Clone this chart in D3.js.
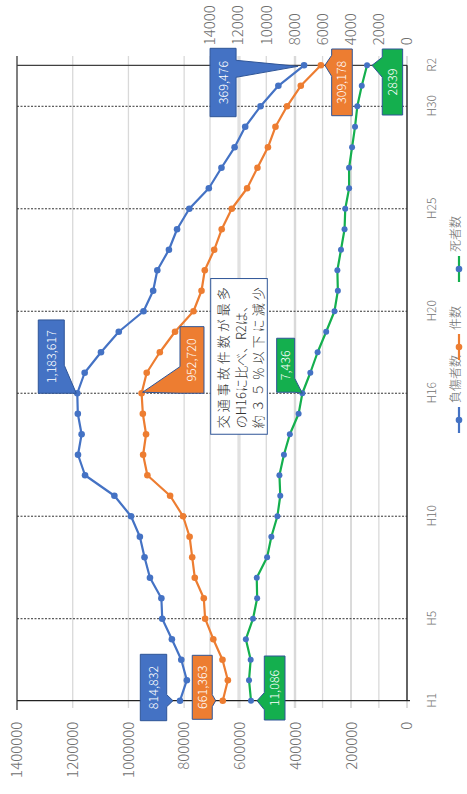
<!DOCTYPE html>
<html>
<head>
<meta charset="utf-8">
<script src="https://cdn.jsdelivr.net/npm/d3@7"></script>
<style>
  body { margin: 0; background: #fff; }
  text { font-family: "Noto Sans CJK JP", "Noto Sans", sans-serif; font-weight: 300; }
</style>
</head>
<body>
<svg id="chart" width="467" height="794"></svg>
<script>
// data (national traffic accidents, H1 .. R2)
var years = ['H1','H2','H3','H4','H5','H6','H7','H8','H9','H10',
             'H11','H12','H13','H14','H15','H16','H17','H18','H19','H20',
             'H21','H22','H23','H24','H25','H26','H27','H28','H29','H30','R1','R2'];
var injured = [814832,790295,810245,844003,878633,881723,922677,942204,958925,990675,
               1050399,1155707,1181039,1168029,1181681,1183617,1157113,1098564,1034652,945703,
               911215,896297,854613,825392,781494,711374,666023,618853,580850,525846,461775,369476];
var accidents = [661363,643097,662388,695345,724675,729461,761794,771085,780401,803882,
                 850371,931950,947253,936721,948281,952720,934346,887267,832704,766394,
                 737637,725924,692084,665157,629033,573842,536899,499201,472165,430601,381237,309178];
var deaths = [11086,11227,11109,11452,10942,10649,10679,9942,9640,9211,
              9006,9066,8747,8326,7702,7436,6871,6352,5744,5155,
              4914,4948,4691,4438,4388,4113,4117,3904,3694,3532,3215,2839];
var shownYears = ['H1','H5','H10','H16','H20','H25','H30','R2'];
var markYears = ['H5','H10','H16','H20','H25','H30'];
var leftTicks = [0,200000,400000,600000,800000,1000000,1200000,1400000];
var rightTicks = [0,2000,4000,6000,8000,10000,12000,14000];
var seriesNames = ['負傷者数','件数','死者数'];
var noteLines = ['交通事故件数が最多','のH16に比べ、R2は、','約３５％以下に減少'];

var blue = '#4472C4', orange = '#ED7D31', green = '#14AF4E', edge = '#2F5597';

var svg = d3.select('#chart');
svg.append('rect').attr('width', 467).attr('height', 794).attr('fill', '#fff');

// the chart is drawn landscape, then turned a quarter turn counter-clockwise
var g = svg.append('g').attr('transform', 'translate(0,794) rotate(-90)');

var x = d3.scalePoint().domain(years).range([93.3, 728.7]);
var yL = d3.scaleLinear().domain([0, 1400000]).range([407, 17]);
var yR = d3.scaleLinear().domain([0, 14000]).range([407, 210]);

// gridlines for both value axes
g.append('g').selectAll('line').data(leftTicks).enter().append('line')
  .attr('x1', 86).attr('x2', 738)
  .attr('y1', function(d){ return yL(d); }).attr('y2', function(d){ return yL(d); })
  .attr('stroke', '#d9d9d9').attr('stroke-width', 1.3);
g.append('g').selectAll('line').data(rightTicks).enter().append('line')
  .attr('x1', 86).attr('x2', 738)
  .attr('y1', function(d){ return yR(d); }).attr('y2', function(d){ return yR(d); })
  .attr('stroke', '#d9d9d9').attr('stroke-width', 1.3);

// frame
g.append('line').attr('x1', 84).attr('x2', 738).attr('y1', yL(1400000)).attr('y2', yL(1400000))
  .attr('stroke', '#7f7f7f').attr('stroke-width', 2);
g.append('line').attr('x1', x('H1')).attr('x2', x('H1')).attr('y1', 17).attr('y2', 410)
  .attr('stroke', '#222').attr('stroke-width', 1.3);
g.append('line').attr('x1', x('R2')).attr('x2', x('R2')).attr('y1', 17).attr('y2', 407)
  .attr('stroke', '#404040').attr('stroke-width', 1.3);
g.append('line').attr('x1', x('H1')).attr('x2', x('R2')).attr('y1', yL(0)).attr('y2', yL(0))
  .attr('stroke', '#222').attr('stroke-width', 1.3);

// dotted year markers
g.append('g').selectAll('line').data(markYears).enter().append('line')
  .attr('x1', function(d){ return x(d); }).attr('x2', function(d){ return x(d); })
  .attr('y1', 17).attr('y2', 407)
  .attr('stroke', '#333').attr('stroke-width', 1).attr('stroke-dasharray', '2,1.5');

// axes
function styleAxis(sel, size) {
  sel.attr('font-family', null).attr('font-size', size);
  sel.select('.domain').remove();
  sel.selectAll('text').attr('fill', '#707070');
}
g.append('g').attr('transform', 'translate(' + x('H1') + ',0)')
  .call(d3.axisLeft(yL).tickValues(leftTicks).tickSize(0).tickPadding(21).tickFormat(d3.format('d')))
  .call(styleAxis, 15);
g.append('g').attr('transform', 'translate(' + x('R2') + ',0)')
  .call(d3.axisRight(yR).tickValues(rightTicks).tickSize(0).tickPadding(20).tickFormat(d3.format('d')))
  .call(styleAxis, 15);
g.append('g').attr('transform', 'translate(0,' + yL(0) + ')')
  .call(d3.axisBottom(x).tickValues(shownYears).tickSize(0).tickPadding(20))
  .call(styleAxis, 12);

// series
var series = [
  { name: seriesNames[0], values: injured,   y: yL, color: blue,   dot: blue, r: 3.3 },
  { name: seriesNames[1], values: accidents, y: yL, color: orange, dot: orange, r: 3.3 },
  { name: seriesNames[2], values: deaths,    y: yR, color: green,  dot: blue, r: 3 }
];

series.forEach(function(s) {
  var line = d3.line()
    .x(function(d, i){ return x(years[i]); })
    .y(function(d){ return s.y(d); });
  g.append('path').datum(s.values)
    .attr('d', line).attr('fill', 'none')
    .attr('stroke', s.color).attr('stroke-width', 2.2).attr('stroke-linejoin', 'round');
  g.append('g').selectAll('circle').data(s.values).enter().append('circle')
    .attr('cx', function(d, i){ return x(years[i]); })
    .attr('cy', function(d){ return s.y(d); })
    .attr('r', s.r).attr('fill', s.dot);
});

// data callouts: box offset from the point, wedge on top or bottom edge
var callouts = [
  { s: 0, year: 'H1',  bx: -20,   by: -39.7, w: 66.4, h: 26.4, side: 'bottom', b: [-6, 6],   tip: [0, -7] },
  { s: 1, year: 'H1',  bx: -18.6, by: -30.5, w: 64,   h: 20,   side: 'bottom', b: [-6, 6],   tip: [0, -7] },
  { s: 2, year: 'H1',  bx: -19.3, by: 13.3,  w: 64,   h: 20.7, side: 'top',    b: [-9, 8],   tip: [0, 6] },
  { s: 0, year: 'H16', bx: 0,     by: -39,   w: 73.3, h: 26,   side: 'bottom', b: [0, 28],   tip: [0, -1] },
  { s: 1, year: 'H16', bx: 0,     by: 38.4,  w: 66.6, h: 24,   side: 'top',    b: [0, 26.6], tip: [1, 1] },
  { s: 2, year: 'H16', bx: 1,     by: -25.7, w: 54,   h: 18,   side: 'bottom', b: [1, 15],   tip: [0, 0] },
  { s: 0, year: 'R2',  bx: -51.4, by: -94,   w: 68.4, h: 26,   side: 'bottom', b: [-12, 5],  tip: [-1, -6] },
  { s: 1, year: 'R2',  bx: -50.4, by: 10.8,  w: 66.7, h: 20.6, side: 'top',    b: [-11, 10], tip: [0, 4] },
  { s: 2, year: 'R2',  bx: -49.7, by: 15.2,  w: 66,   h: 20.4, side: 'top',    b: [-12, 8],  tip: [0, 5] }
];
var fmt = d3.format(',');

callouts.forEach(function(c) {
  var s = series[c.s];
  var i = years.indexOf(c.year);
  var px = x(c.year), py = s.y(s.values[i]);
  var x0 = px + c.bx, y0 = py + c.by, x1 = x0 + c.w, y1 = y0 + c.h;
  var tx = px + c.tip[0], ty = py + c.tip[1];
  var p = d3.path();
  if (c.side === 'top') {
    p.moveTo(x0, y0); p.lineTo(px + c.b[0], y0); p.lineTo(tx, ty); p.lineTo(px + c.b[1], y0);
    p.lineTo(x1, y0); p.lineTo(x1, y1); p.lineTo(x0, y1); p.closePath();
  } else {
    p.moveTo(x0, y0); p.lineTo(x1, y0); p.lineTo(x1, y1); p.lineTo(px + c.b[1], y1);
    p.lineTo(tx, ty); p.lineTo(px + c.b[0], y1); p.lineTo(x0, y1); p.closePath();
  }
  g.append('path').attr('d', p.toString())
    .attr('fill', s.color).attr('stroke', edge).attr('stroke-width', 1);
  var label = c.s === 2 && c.year === 'R2' ? String(s.values[i]) : fmt(s.values[i]);
  g.append('text').attr('x', (x0 + x1) / 2).attr('y', (y0 + y1) / 2)
    .attr('dy', '0.36em').attr('text-anchor', 'middle')
    .attr('font-size', 12.5).attr('fill', '#fff').text(label);
});

// note box
var noteX = x('H16') - 41, noteY = 210.7;
g.append('rect').attr('x', noteX).attr('y', noteY).attr('width', 155.7).attr('height', 56.6)
  .attr('fill', '#fff').attr('stroke', edge).attr('stroke-width', 1);
g.append('g').selectAll('text').data(noteLines).enter().append('text')
  .attr('x', noteX + 6)
  .attr('y', function(d, i){ return noteY + 17.6 + i * 17.5; })
  .attr('font-size', 13).attr('fill', '#333')
  .attr('textLength', function(d, i){ return i === 1 ? null : 141; })
  .attr('lengthAdjust', 'spacing')
  .text(function(d){ return d; });

// legend
var legendX = [361, 434, 512];
var lg = g.append('g').selectAll('g').data(series).enter().append('g')
  .attr('transform', function(d, i){ return 'translate(' + legendX[i] + ',456)'; });
lg.append('line').attr('x1', 0).attr('x2', 26).attr('y1', 3).attr('y2', 3)
  .attr('stroke', function(d){ return d.color; }).attr('stroke-width', 2.2);
lg.append('circle').attr('cx', 13).attr('cy', 3).attr('r', 3.3)
  .attr('fill', function(d){ return d.dot; });
lg.append('text').attr('x', 30).attr('y', 0).attr('dy', '0.35em')
  .attr('font-size', 12).attr('fill', '#6a6a6a')
  .text(function(d){ return d.name; });
</script>
</body>
</html>
